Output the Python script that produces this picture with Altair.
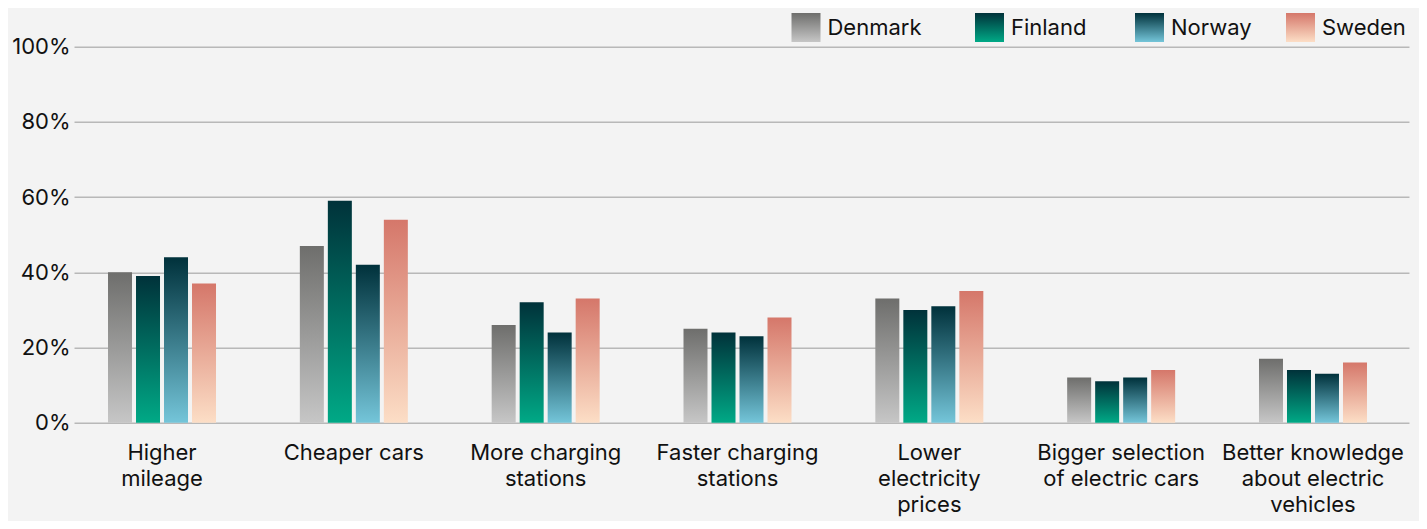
import json
import altair as alt
import pandas as pd

categories = [
    "Higher mileage",
    "Cheaper cars",
    "More charging stations",
    "Faster charging stations",
    "Lower electricity prices",
    "Bigger selection of electric cars",
    "Better knowledge about electric vehicles",
]
category_lines = [
    ["Higher", "mileage"],
    ["Cheaper cars"],
    ["More charging", "stations"],
    ["Faster charging", "stations"],
    ["Lower", "electricity", "prices"],
    ["Bigger selection", "of electric cars"],
    ["Better knowledge", "about electric", "vehicles"],
]
countries = ["Denmark", "Finland", "Norway", "Sweden"]
denmark = [40, 47, 26, 25, 33, 12, 17]
finland = [39, 59, 32, 24, 30, 11, 14]
norway = [44, 42, 24, 23, 31, 12, 13]
sweden = [37, 54, 33, 28, 35, 14, 16]
y_ticks = [0, 20, 40, 60, 80, 100]

gradients = {
    "Denmark": ("#6e6e6c", "#c6c6c6"),
    "Finland": ("#00323a", "#00a986"),
    "Norway": ("#00313b", "#74c5d9"),
    "Sweden": ("#d5776a", "#fcdec6"),
}

series = {"Denmark": denmark, "Finland": finland, "Norway": norway, "Sweden": sweden}
rows = []
for c in countries:
    for cat, v in zip(categories, series[c]):
        rows.append({"category": cat, "country": c, "value": v})
df = pd.DataFrame(rows)

FONT = "Inter"
TEXT = "#111111"
FS = 22

def grad(c):
    top, bottom = gradients[c]
    return alt.Gradient(
        gradient="linear",
        stops=[alt.GradientStop(color=top, offset=0), alt.GradientStop(color=bottom, offset=1)],
        x1=0, x2=0, y1=0, y2=1,
    )

label_map = "{" + ",".join(f"{json.dumps(c)}: {json.dumps(l)}" for c, l in zip(categories, category_lines)) + "}"

x_enc = alt.X(
    "category:N",
    sort=categories,
    scale=alt.Scale(domain=categories, paddingInner=0.3953, paddingOuter=0.1772),
    axis=alt.Axis(
        title=None, domain=False, ticks=False, labelAngle=0, labelPadding=20,
        labelOffset=-4, labelFontSize=FS, labelFont=FONT, labelColor=TEXT,
        labelLineHeight=26, labelExpr=label_map + "[datum.value]", labelLimit=300,
    ),
)
xo_enc = alt.XOffset(
    "country:N",
    scale=alt.Scale(domain=countries, paddingInner=0.142857, paddingOuter=0.142857, align=0),
)
y_enc = alt.Y(
    "value:Q",
    scale=alt.Scale(domain=[0, 100], nice=False),
    axis=alt.Axis(
        title=None, values=y_ticks, domain=False, ticks=False, labelPadding=4,
        labelFontSize=FS, labelFont=FONT, labelColor=TEXT,
        labelExpr="datum.value + '%'", gridColor="#b8b8b8", gridWidth=1.5,
    ),
)

layers = []
for c in countries:
    layers.append(
        alt.Chart(df)
        .transform_filter(alt.datum.country == c)
        .mark_bar(color=grad(c))
        .encode(x=x_enc, xOffset=xo_enc, y=y_enc)
    )

legend_x = {"Denmark": 717.5, "Finland": 901, "Norway": 1061, "Sweden": 1212}
for c in countries:
    ld = alt.Data(values=[{"country": c}])
    x0 = legend_x[c]
    layers.append(
        alt.Chart(ld).mark_rect(color=grad(c)).encode(
            x=alt.value(x0), x2=alt.value(x0 + 29), y=alt.value(-33.7), y2=alt.value(-4.7)
        )
    )
    layers.append(
        alt.Chart(ld).mark_text(
            align="left", baseline="middle", fontSize=FS, font=FONT, color=TEXT
        ).encode(x=alt.value(x0 + 36), y=alt.value(-19), text="country:N")
    )

chart = (
    alt.layer(*layers)
    .properties(
        width=1335, height=376,
        autosize=alt.AutoSizeParams(type="none"),
        padding={"left": 66, "top": 38.7, "right": 10, "bottom": 98},
        background="#f3f3f3",
    )
    .configure_view(stroke=None)
)

chart.save("out.html", embed_options={"renderer": "svg", "actions": False})
